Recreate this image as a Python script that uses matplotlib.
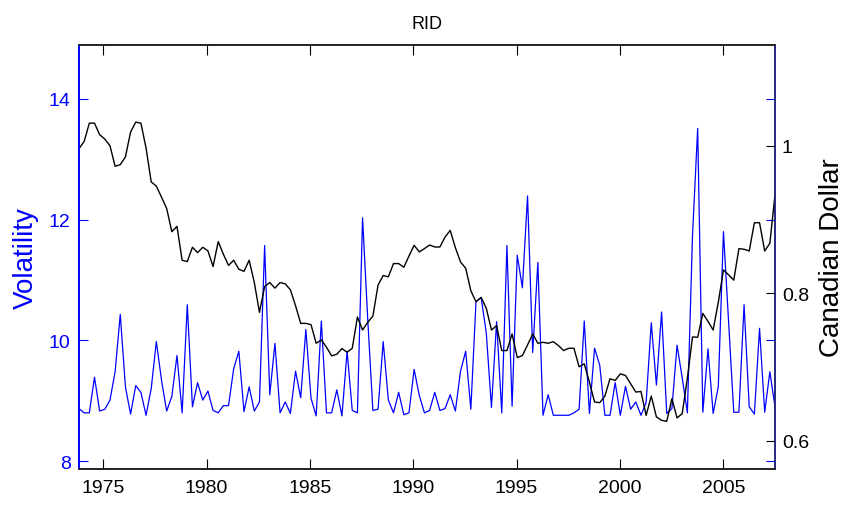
import matplotlib
matplotlib.use("Agg")
import matplotlib.pyplot as plt
import numpy as np

plt.rcParams['font.family'] = ['Liberation Sans', 'DejaVu Sans']

# Quarterly volatility (left axis) and Canadian dollar in USD (right axis)
vol = [8.87, 8.80, 8.80, 9.39, 8.83, 8.86, 9.01, 9.48, 10.43, 9.23,
       8.78, 9.25, 9.14, 8.76, 9.20, 9.98, 9.34, 8.83, 9.07, 9.75,
       8.80, 10.59, 8.90, 9.30, 9.01, 9.16, 8.84, 8.80, 8.92, 8.92,
       9.53, 9.82, 8.82, 9.23, 8.83, 8.98, 11.57, 9.10, 9.95, 8.80,
       8.98, 8.79, 9.49, 9.05, 10.18, 9.04, 8.75, 10.32, 8.80, 8.80,
       9.18, 8.75, 9.82, 8.84, 8.80, 12.03, 10.35, 8.84, 8.86, 9.98,
       9.01, 8.80, 9.14, 8.77, 8.80, 9.52, 9.09, 8.80, 8.84, 9.14,
       8.84, 8.87, 9.10, 8.83, 9.49, 9.82, 8.86, 10.64, 10.71, 10.12,
       8.89, 10.31, 8.80, 11.57, 8.91, 11.41, 10.87, 12.39, 9.80, 11.29,
       8.76, 9.10, 8.76, 8.76, 8.76, 8.76, 8.80, 8.86, 10.32, 8.79,
       9.87, 9.59, 8.76, 8.76, 9.30, 8.76, 9.24, 8.86, 8.98, 8.76,
       8.97, 10.29, 9.26, 10.47, 8.79, 8.87, 9.92, 9.38, 8.80, 11.74,
       13.51, 8.81, 9.86, 8.79, 9.23, 11.80, 10.30, 8.81, 8.81, 10.59,
       8.90, 8.78, 10.20, 8.81, 9.48, 8.90]

cad = [0.9964, 1.0063, 1.031, 1.031, 1.0153, 1.0094, 1.0004, 0.9725, 0.9747, 0.9851,
       1.0189, 1.0324, 1.031, 0.9973, 0.9513, 0.9455, 0.9306, 0.9153, 0.8837, 0.891,
       0.845, 0.8432, 0.8626, 0.8554, 0.8626, 0.8578, 0.8365, 0.8703, 0.8532, 0.838,
       0.845, 0.8328, 0.830, 0.845, 0.8148, 0.7743, 0.8094, 0.8148, 0.8072, 0.8148,
       0.813, 0.8049, 0.7833, 0.7594, 0.7594, 0.7576, 0.7324, 0.7369, 0.727, 0.7153,
       0.7175, 0.7252, 0.7202, 0.7256, 0.768, 0.7504, 0.7608, 0.7693, 0.8112, 0.8243,
       0.8225, 0.8405, 0.8405, 0.8355, 0.8508, 0.8653, 0.8563, 0.8608, 0.8657, 0.863,
       0.863, 0.8765, 0.8855, 0.8621, 0.8427, 0.8342, 0.8036, 0.7887, 0.7946, 0.7797,
       0.7504, 0.7563, 0.7225, 0.7225, 0.745, 0.713, 0.7157, 0.7301, 0.745, 0.7324,
       0.7337, 0.7324, 0.7346, 0.7292, 0.7225, 0.7256, 0.7256, 0.7005, 0.7045, 0.6797,
       0.6527, 0.6518, 0.6608, 0.6842, 0.6819, 0.6909, 0.6887, 0.6774, 0.6662, 0.667,
       0.6346, 0.6608, 0.6324, 0.6279, 0.6265, 0.6572, 0.6311, 0.6369, 0.685, 0.741,
       0.7405, 0.7729, 0.7621, 0.7504, 0.7878, 0.8319, 0.8252, 0.818, 0.8608, 0.8599,
       0.8576, 0.8959, 0.8959, 0.8576, 0.868, 0.9342]

years = np.linspace(1973.83, 2007.5, len(vol))
xticks = [1975, 1980, 1985, 1990, 1995, 2000, 2005]

navy = (0.15, 0.15, 0.5)

fig = plt.figure(figsize=(8.47, 5.06), dpi=100)
ax = fig.add_axes([0.0933, 0.0711, 0.8217, 0.838])
ax.plot(years, vol, color="blue", lw=0.9)
ax.set_xlim(years[0], years[-1])
ax.set_ylim(7.87, 14.89)
ax.set_yticks([8, 10, 12, 14])
ax.set_xticks(xticks)
ax.set_ylabel("Volatility", color="blue", fontsize=20, labelpad=7)
ax.set_title("RID", fontsize=13, pad=12)

ax2 = ax.twinx()
ax2.plot(years, cad, color="black", lw=1.0)
ax2.set_ylim(0.5618, 1.137)
ax2.set_yticks([0.6, 0.8, 1.0])
ax2.set_yticklabels(["0.6", "0.8", "1"])
ax2.set_ylabel("Canadian Dollar", color="black", fontsize=20, labelpad=7)

ax.tick_params(axis="y", colors="blue", direction="in", length=6.5,
               right=True, labelsize=14, pad=6)
ax.tick_params(axis="x", direction="in", length=7, top=True,
               labelsize=14, pad=7)
ax2.tick_params(axis="y", colors="black", direction="in", length=6.5,
                labelsize=14, pad=5)

for a in (ax, ax2):
    a.spines["left"].set_color("blue")
    a.spines["right"].set_color(navy)
    a.spines["top"].set_color("#222222")
    a.spines["bottom"].set_color("#222222")
    for s in a.spines.values():
        s.set_linewidth(1.2)

fig.savefig("out.png", dpi=100)
